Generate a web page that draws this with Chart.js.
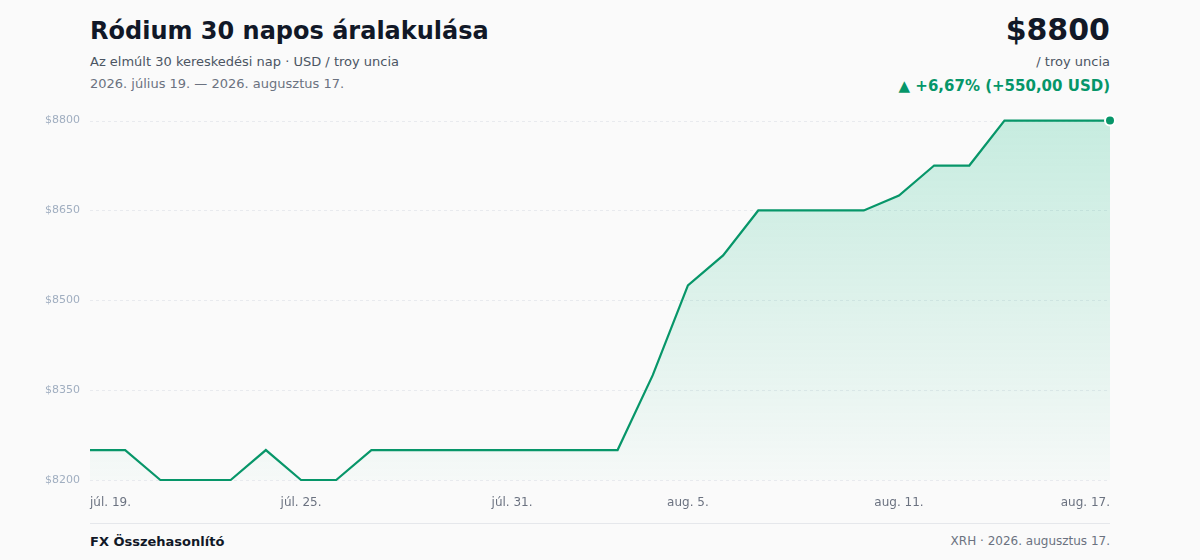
<!DOCTYPE html>
<html lang="hu">
<head>
<meta charset="utf-8">
<title>Ródium 30 napos áralakulása</title>
<script src="https://cdn.jsdelivr.net/npm/chart.js@4/dist/chart.umd.min.js"></script>
<style>
  html, body { margin: 0; padding: 0; background: #fafafa; }
  body { width: 1200px; height: 560px; position: relative; overflow: hidden; font-family: "DejaVu Sans", sans-serif; }
  .title { position: absolute; left: 90px; top: 17px; font-size: 24px; font-weight: bold; color: #111827; }
  .sub { position: absolute; left: 90px; top: 54px; font-size: 13px; color: #4b5563; }
  .range { position: absolute; left: 90px; top: 76px; font-size: 13px; color: #6b7280; }
  .price { position: absolute; right: 90px; top: 12px; font-size: 30px; font-weight: bold; color: #111827; }
  .unit { position: absolute; right: 90px; top: 54px; font-size: 13px; color: #4b5563; }
  .change { position: absolute; right: 90px; top: 77px; font-size: 15px; font-weight: bold; color: #059669; }
  .chart-box { position: absolute; left: 0; top: 104px; width: 1200px; height: 416px; }
  .footer { position: absolute; left: 90px; right: 90px; top: 523px; border-top: 1px solid #e5e7eb; }
  .brand { position: absolute; left: 0; top: 10px; font-size: 13px; font-weight: bold; color: #111827; }
  .source { position: absolute; right: 0; top: 10px; font-size: 12px; color: #6b7280; }
</style>
</head>
<body>
<div class="title">Ródium 30 napos áralakulása</div>
<div class="sub">Az elmúlt 30 kereskedési nap · USD / troy uncia</div>
<div class="range">2026. július 19. — 2026. augusztus 17.</div>
<div class="price">$8800</div>
<div class="unit">/ troy uncia</div>
<div class="change">▲ +6,67% (+550,00 USD)</div>
<div class="chart-box"><canvas id="priceChart"></canvas></div>
<div class="footer">
  <div class="brand">FX Összehasonlító</div>
  <div class="source">XRH · 2026. augusztus 17.</div>
</div>
<script>
// Dates (consecutive days)
const days = [
    "júl. 19.", "júl. 20.", "júl. 21.", "júl. 22.", "júl. 23.", "júl. 24.", "júl. 25.",
    "júl. 26.", "júl. 27.", "júl. 28.", "júl. 29.", "júl. 30.", "júl. 31.",
    "aug. 1.", "aug. 2.", "aug. 3.", "aug. 4.", "aug. 5.", "aug. 6.", "aug. 7.",
    "aug. 8.", "aug. 9.", "aug. 10.", "aug. 11.", "aug. 12.", "aug. 13.", "aug. 14.",
    "aug. 15.", "aug. 16.", "aug. 17."
];

// Rhodium price, USD / troy ounce
const prices = [
    8250, 8250, 8200, 8200, 8200, 8250, 8200, 8200, 8250, 8250,
    8250, 8250, 8250, 8250, 8250, 8250, 8375, 8525, 8575, 8650,
    8650, 8650, 8650, 8675, 8725, 8725, 8800, 8800, 8800, 8800
];

// Which date labels are shown on the x axis
const shownTicks = [0, 6, 12, 17, 23, 29];

// Y axis range
const yMin = 8200;
const yMax = 8800;
const yStep = 150;

const green = "#079669";

const ctx = document.getElementById("priceChart").getContext("2d");
new Chart(ctx, {
    type: 'line',
    data: {
        labels: days,
        datasets: [{
            data: prices,
            borderColor: green,
            borderWidth: 2.2,
            tension: 0,
            fill: true,
            clip: false,
            backgroundColor: (c) => {
                const area = c.chart.chartArea;
                if (!area) return 'rgba(16,185,129,0.15)';
                const g = c.chart.ctx.createLinearGradient(0, area.top, 0, area.bottom);
                g.addColorStop(0, 'rgba(16,185,129,0.22)');
                g.addColorStop(1, 'rgba(16,185,129,0.02)');
                return g;
            },
            pointRadius: prices.map((v, i) => i === prices.length - 1 ? 5 : 0),
            pointBackgroundColor: green,
            pointBorderColor: '#ffffff',
            pointBorderWidth: 2,
            pointHoverRadius: 5
        }]
    },
    options: {
        responsive: true,
        maintainAspectRatio: false,
        animation: false,
        layout: { padding: { left: 0, right: 90, top: 4, bottom: 0 } },
        plugins: {
            legend: { display: false },
            tooltip: { enabled: false }
        },
        scales: {
            x: {
                grid: { display: false },
                border: { display: false },
                afterBuildTicks: (scale) => {
                    scale.ticks = scale.ticks.filter(t => shownTicks.includes(t.value));
                },
                afterFit: (scale) => { scale.height = 40; },
                ticks: {
                    autoSkip: false,
                    maxRotation: 0,
                    align: 'inner',
                    padding: 8,
                    color: '#6b7280',
                    font: { family: 'DejaVu Sans', size: 12 }
                }
            },
            y: {
                min: yMin,
                max: yMax,
                border: { display: false },
                grid: { display: false, drawTicks: false },
                afterFit: (scale) => { scale.width = 90; },
                ticks: {
                    stepSize: yStep,
                    padding: 10,
                    color: '#a0aec0',
                    font: { family: 'DejaVu Sans', size: 11 },
                    callback: (v) => '$' + v
                }
            }
        }
    },
    plugins: [{
        id: 'dashedGrid',
        beforeDatasetsDraw: (chart) => {
            const y = chart.scales.y;
            const c = chart.ctx;
            c.save();
            c.strokeStyle = '#e8eaee';
            c.lineWidth = 1;
            c.setLineDash([3, 3]);
            y.ticks.forEach(t => {
                const py = Math.round(y.getPixelForValue(t.value)) + 0.5;
                c.beginPath();
                c.moveTo(chart.chartArea.left, py);
                c.lineTo(chart.chartArea.right, py);
                c.stroke();
            });
            c.restore();
        }
    }]
});
</script>
</body>
</html>
